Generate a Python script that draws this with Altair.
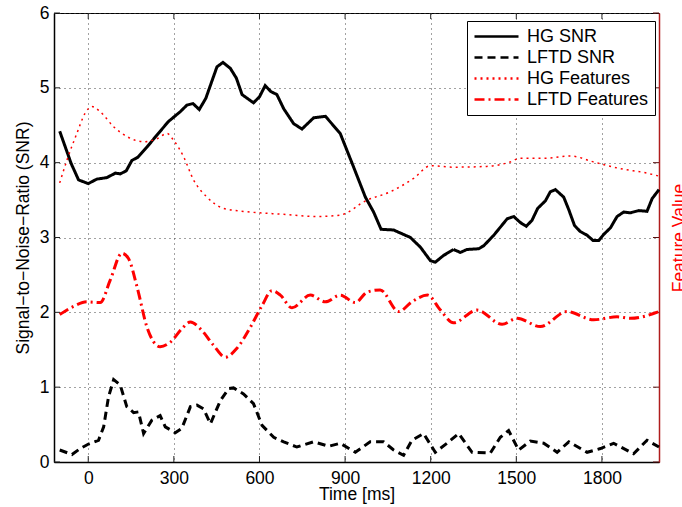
import altair as alt
import pandas as pd

series_order = ["HG SNR", "LFTD SNR", "HG Features", "LFTD Features"]

hg_snr_t = [-100, -60, -34, 0, 30, 65, 95, 112, 133, 153, 173, 206, 241, 281, 322, 346, 367, 389, 412,
            451, 472, 498, 519, 539, 579, 600, 620, 640, 661, 685, 720, 749, 790, 831, 883, 930, 971,
            1000, 1026, 1070, 1129, 1164, 1199, 1216, 1245, 1280, 1304, 1327, 1368, 1386, 1421, 1468,
            1491, 1514, 1535, 1555, 1575, 1602, 1619, 1637, 1666, 1684, 1704, 1724, 1748, 1769, 1789,
            1806, 1830, 1853, 1876, 1900, 1929, 1958, 1976, 2000]
hg_snr_v = [4.42, 3.99, 3.77, 3.72, 3.78, 3.80, 3.86, 3.85, 3.89, 4.03, 4.07, 4.21, 4.37, 4.55, 4.68,
            4.77, 4.79, 4.71, 4.86, 5.28, 5.34, 5.26, 5.13, 4.91, 4.80, 4.88, 5.03, 4.95, 4.91, 4.72,
            4.52, 4.45, 4.60, 4.62, 4.39, 3.94, 3.54, 3.34, 3.11, 3.10, 3.00, 2.87, 2.69, 2.67, 2.76,
            2.84, 2.80, 2.84, 2.85, 2.89, 3.03, 3.25, 3.28, 3.20, 3.15, 3.23, 3.39, 3.49, 3.61, 3.64,
            3.54, 3.37, 3.16, 3.08, 3.03, 2.96, 2.96, 3.04, 3.13, 3.28, 3.34, 3.33, 3.36, 3.35, 3.52, 3.64]

lftd_snr_t = [-100, -57, -28, 1, 36, 54, 71, 89, 112, 135, 159, 176, 194, 223, 252, 270, 305, 328, 358,
              381, 404, 428, 463, 492, 509, 544, 579, 609, 650, 685, 731, 790, 843, 883, 936, 988, 1035,
              1070, 1105, 1134, 1175, 1216, 1257, 1298, 1345, 1409, 1444, 1473, 1508, 1549, 1596, 1643,
              1684, 1748, 1795, 1841, 1911, 1958, 2000]
lftd_snr_v = [0.16, 0.10, 0.18, 0.24, 0.29, 0.47, 0.87, 1.10, 1.03, 0.74, 0.66, 0.67, 0.38, 0.56, 0.62,
              0.47, 0.39, 0.45, 0.74, 0.76, 0.71, 0.51, 0.82, 0.98, 0.99, 0.91, 0.78, 0.49, 0.33, 0.27,
              0.20, 0.27, 0.21, 0.25, 0.13, 0.27, 0.27, 0.16, 0.09, 0.29, 0.38, 0.13, 0.25, 0.38, 0.13,
              0.12, 0.33, 0.42, 0.16, 0.28, 0.25, 0.13, 0.27, 0.13, 0.18, 0.25, 0.11, 0.29, 0.20]

hg_feat_t = [-100, -75, -40, -11, 13, 42, 89, 135, 194, 241, 276, 299, 334, 369, 416, 474, 568, 685,
             801, 883, 977, 1058, 1140, 1200, 1280, 1397, 1479, 1514, 1607, 1689, 1771, 1865, 1958, 2000]
hg_feat_v = [3.73, 4.03, 4.39, 4.66, 4.75, 4.68, 4.48, 4.35, 4.28, 4.32, 4.39, 4.30, 4.08, 3.77, 3.54,
             3.39, 3.34, 3.31, 3.28, 3.30, 3.50, 3.61, 3.79, 3.96, 3.94, 3.95, 4.01, 4.06, 4.06, 4.09,
             4.01, 3.92, 3.86, 3.82]

lftd_feat_t = [-100, -51, -5, 42, 77, 118, 141, 171, 206, 252, 287, 328, 358, 393, 439, 480, 521, 568,
               609, 644, 673, 714, 778, 831, 883, 936, 977, 1023, 1088, 1134, 1189, 1234, 1280, 1362,
               1450, 1503, 1584, 1678, 1771, 1853, 1900, 2000]
lftd_feat_v = [1.97, 2.08, 2.14, 2.13, 2.43, 2.79, 2.72, 2.34, 1.80, 1.54, 1.60, 1.78, 1.87, 1.78, 1.56,
               1.40, 1.52, 1.80, 2.09, 2.29, 2.23, 2.06, 2.23, 2.14, 2.23, 2.13, 2.27, 2.30, 2.01, 2.14,
               2.23, 2.03, 1.86, 2.03, 1.84, 1.92, 1.81, 2.01, 1.90, 1.94, 1.92, 2.01]

x_ticks = [0, 300, 600, 900, 1200, 1500, 1800]
y_ticks = [0, 1, 2, 3, 4, 5, 6]


def frame(name, ts, vs):
    return pd.DataFrame({"t": ts, "v": vs, "series": name})


df_snr = pd.concat([frame("HG SNR", hg_snr_t, hg_snr_v),
                    frame("LFTD SNR", lftd_snr_t, lftd_snr_v)], ignore_index=True)
df_hg_feat = frame("HG Features", hg_feat_t, hg_feat_v)
df_lftd_feat = frame("LFTD Features", lftd_feat_t, lftd_feat_v)
df_xt = pd.DataFrame({"t": x_ticks})
df_yt = pd.DataFrame({"v": y_ticks})

W, H = 605, 449
FONT = "Liberation Sans"
FS = 17.5

xscale = alt.Scale(domain=[-120, 2000], nice=False, zero=False)
yscale = alt.Scale(domain=[0, 6], nice=False, zero=False)

color_enc = alt.Color("series:N", title=None,
                      scale=alt.Scale(domain=series_order,
                                      range=["#000000", "#000000", "#ff0000", "#ff0000"]))
dash_enc = alt.StrokeDash("series:N", title=None,
                          scale=alt.Scale(domain=series_order,
                                          range=[[1, 0], [8, 5], [2, 4], [10, 4, 2, 4]]))

x_axis = alt.Axis(values=x_ticks, format="d", title="Time [ms]", grid=True, ticks=False,
                  labelPadding=7, titleY=37, titleBaseline="alphabetic")
y_axis_left = alt.Axis(values=y_ticks, format="d", title="Signal\u2212to\u2212Noise\u2212Ratio (SNR)",
                       grid=True, ticks=False, labelPadding=5, titleAngle=270, titleX=-26,
                       titleY=H / 2, titleAlign="center", titleBaseline="alphabetic")
y_axis_right = alt.Axis(orient="right", values=y_ticks, title="Feature Value", grid=False,
                        ticks=False, labels=False, domainColor="#b01c1c", domainWidth=1.5,
                        titleColor="#ff0000", titleAngle=270, titleX=25, titleY=H / 2,
                        titleAlign="center", titleBaseline="alphabetic")

snr = alt.Chart(df_snr).mark_line(strokeWidth=3, strokeCap="butt").encode(
    x=alt.X("t:Q", scale=xscale, axis=x_axis),
    y=alt.Y("v:Q", scale=yscale, axis=y_axis_left),
    color=color_enc,
    strokeDash=dash_enc,
)

hg_feat = alt.Chart(df_hg_feat).mark_line(strokeWidth=1.5, interpolate="monotone", strokeCap="butt").encode(
    x=alt.X("t:Q", scale=xscale),
    y=alt.Y("v:Q", scale=yscale, axis=None),
    color=color_enc,
    strokeDash=dash_enc,
)

lftd_feat = alt.Chart(df_lftd_feat).mark_line(strokeWidth=3, interpolate="monotone", strokeCap="butt").encode(
    x=alt.X("t:Q", scale=xscale),
    y=alt.Y("v:Q", scale=yscale, axis=y_axis_right),
    color=color_enc,
    strokeDash=dash_enc,
)

tick_bottom = alt.Chart(df_xt).mark_rule(color="#222", strokeWidth=1).encode(
    x=alt.X("t:Q", scale=xscale), y=alt.value(H), y2=alt.value(H - 6))
tick_top = alt.Chart(df_xt).mark_rule(color="#222", strokeWidth=1).encode(
    x=alt.X("t:Q", scale=xscale), y=alt.value(0), y2=alt.value(6))
tick_left = alt.Chart(df_yt).mark_rule(color="#222", strokeWidth=1).encode(
    y=alt.Y("v:Q", scale=yscale, axis=None), x=alt.value(0), x2=alt.value(6))
tick_right = alt.Chart(df_yt).mark_rule(color="#5a1010", strokeWidth=1).encode(
    y=alt.Y("v:Q", scale=yscale, axis=None), x=alt.value(W - 6), x2=alt.value(W))

chart = alt.layer(
    tick_bottom, tick_top, tick_left, tick_right, snr, hg_feat, lftd_feat
).resolve_axis(y="independent").properties(
    width=W, height=H,
    autosize=alt.AutoSizeParams(type="none"),
    padding={"left": 54, "top": 13, "right": 23, "bottom": 45},
).configure(
    font=FONT,
).configure_view(
    stroke="#000", strokeWidth=1,
).configure_axis(
    labelFont=FONT, titleFont=FONT, labelFontSize=FS, titleFontSize=FS,
    titleFontWeight="normal", labelColor="#000", titleColor="#000",
    domainColor="#000", domainWidth=1.5, gridColor="#444", gridDash=[1, 4], gridWidth=1,
    gridOpacity=1,
).configure_legend(
    orient="none", legendX=413, legendY=8, symbolType="M-2.75,0H2.75", symbolSize=256,
    symbolStrokeWidth=2.5, symbolOffset=14, labelFont=FONT, labelFontSize=18, labelColor="#000",
    padding=6, rowPadding=2, labelOffset=21, strokeColor="#000", fillColor="#fff",
    labelLimit=300,
)

chart.save("out.html", embed_options={"renderer": "svg", "actions": False})
